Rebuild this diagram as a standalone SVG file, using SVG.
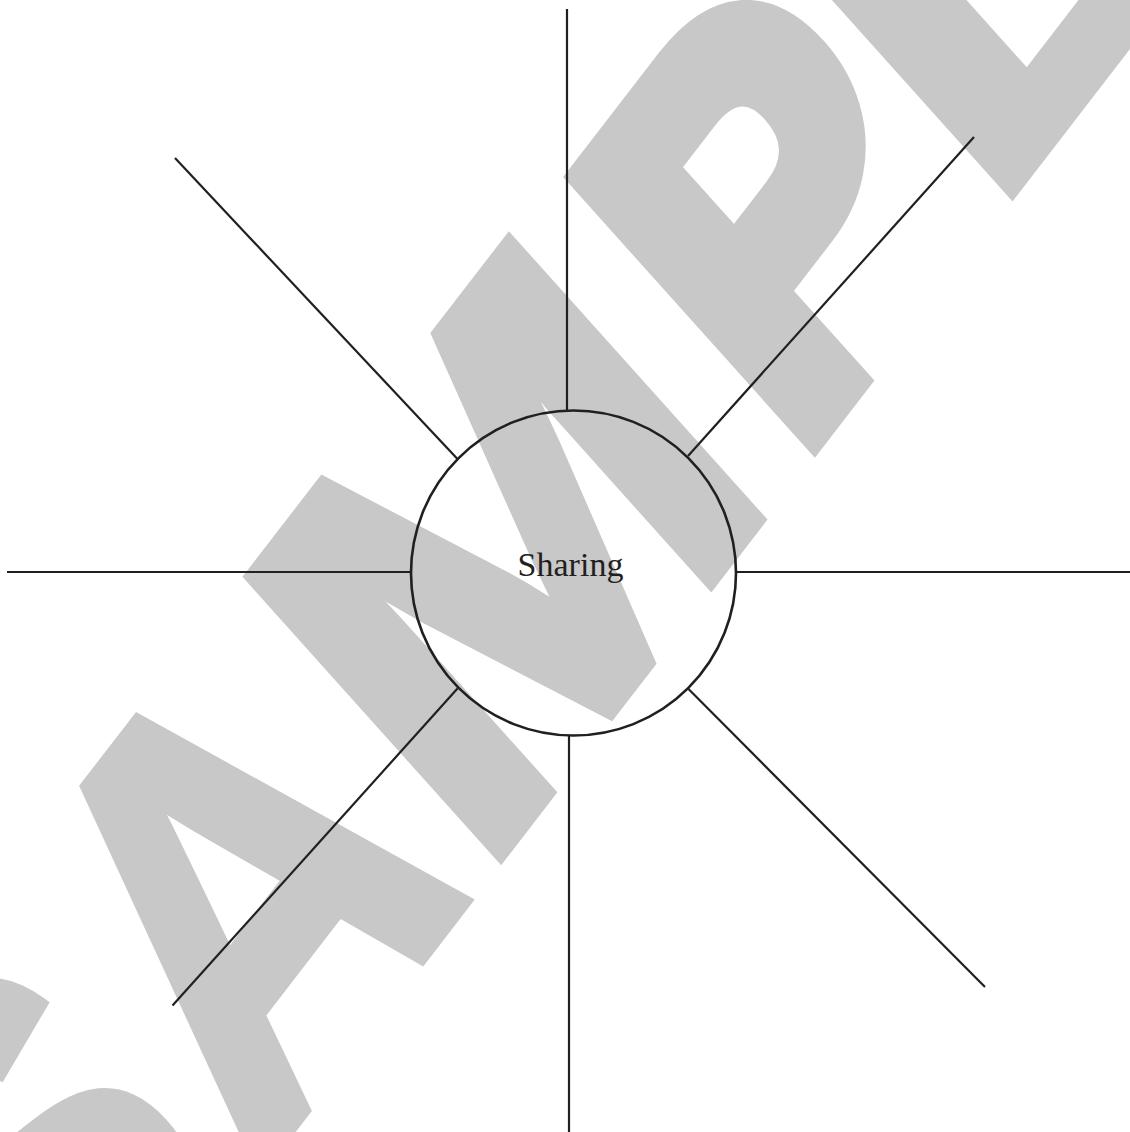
<svg xmlns="http://www.w3.org/2000/svg" width="1130" height="1132" viewBox="0 0 1130 1132">
<style>
.wm { font-family: "Liberation Sans", Arial, sans-serif; font-weight: bold; font-size: 100px; fill: #c8c8c8; stroke: #c8c8c8; stroke-width: 2.5; stroke-linejoin: miter; }
.heavy { stroke-width: 7; }
.ln { stroke: #231f20; stroke-width: 2.2; fill: none; stroke-linecap: butt; }
.node { stroke: #231f20; stroke-width: 2.6; fill: none; }
.lbl { font-family: "Liberation Serif", "Times New Roman", serif; font-size: 34px; fill: #231f20; text-anchor: middle; }
</style>
<rect width="1130" height="1132" fill="#ffffff"/>
<g id="watermark" transform="matrix(3.199 -4.151 3.523 3.928 505 860)">
<text class="wm" transform="translate(-149.8 -1.25) scale(1.05 1)">S</text>
<text class="wm" transform="translate(-77.3 -1.25) scale(0.95 1.035)">A</text>
<text class="wm" transform="translate(-7.5 -1.25) scale(1.15 1.03)">M</text>
<text class="wm heavy" transform="translate(94.1 -3.3) scale(0.87 0.943)">P</text>
<text class="wm" transform="translate(152.4 -1.25) scale(1.15 1)">L</text>
</g>
<g id="connectors">
<line class="ln" x1="567" y1="9" x2="567" y2="411"/>
<line class="ln" x1="569" y1="735" x2="569" y2="1132"/>
<line class="ln" x1="7" y1="572" x2="411" y2="572"/>
<line class="ln" x1="736" y1="572" x2="1130" y2="572"/>
<line class="ln" x1="175" y1="158" x2="457.5" y2="459"/>
<line class="ln" x1="974" y1="137" x2="688" y2="456"/>
<line class="ln" x1="457.5" y1="688.5" x2="172.5" y2="1005.5"/>
<line class="ln" x1="688.5" y1="689" x2="985" y2="987"/>
</g>
<g id="node-sharing">
<circle class="node" cx="573.5" cy="573" r="162.5"/>
<text class="lbl" x="570.5" y="576">Sharing</text>
</g>
</svg>
